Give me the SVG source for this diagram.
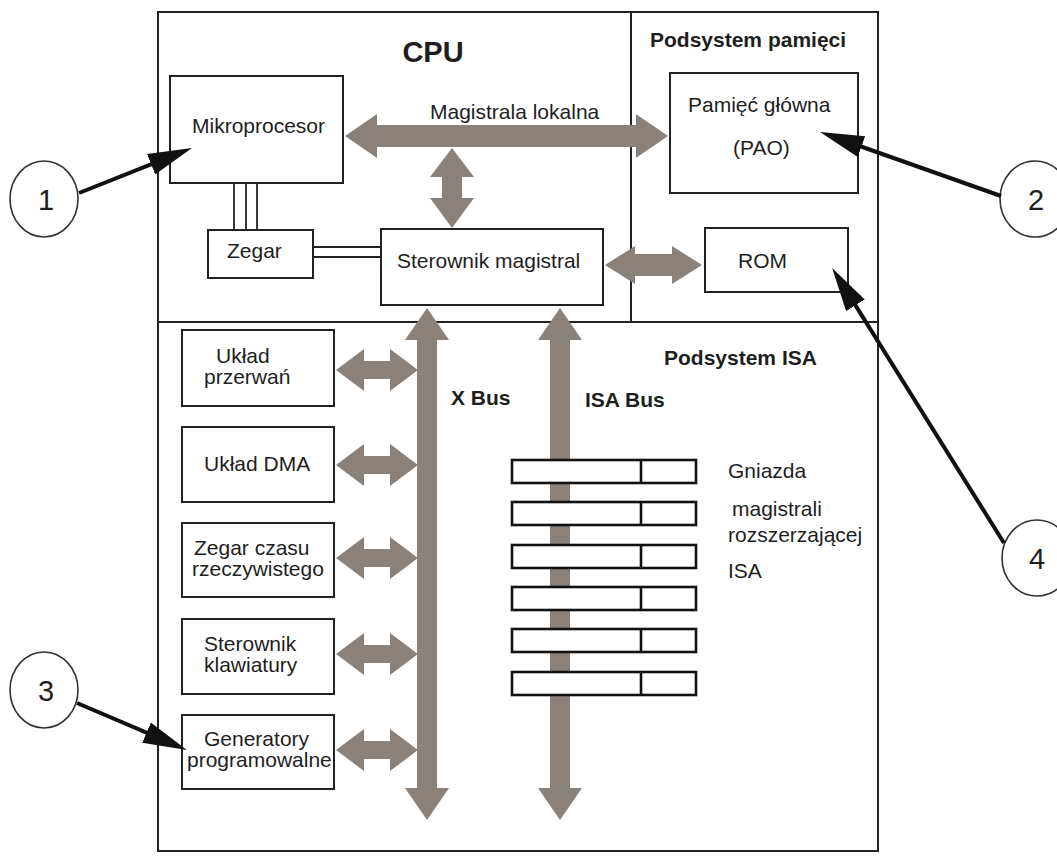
<svg xmlns="http://www.w3.org/2000/svg" width="1057" height="856" viewBox="0 0 1057 856">
<style>
.frame{fill:none;stroke:#222;stroke-width:2}
.box{fill:#fff;stroke:#222;stroke-width:2}
.slot{fill:#fff;stroke:#111;stroke-width:2.6}
.bus{fill:#8a817b}
.wire{stroke:#222;stroke-width:1.8;fill:none}
.ptr{stroke:#111;stroke-width:4;fill:none;marker-end:url(#ptr)}
.circ{fill:#fff;stroke:#333;stroke-width:1.6}
text{font-family:"Liberation Sans",Arial,sans-serif;font-size:21px;fill:#1e1e1e}
.b{font-weight:bold}
.num{font-size:29px;text-anchor:middle}
</style>
<defs>
<marker id="ptr" viewBox="0 -11 44 22" refX="14" refY="0" markerWidth="44" markerHeight="22" markerUnits="userSpaceOnUse" orient="auto">
<path d="M0,-11 L44,0 L0,11 z" fill="#111"/>
</marker>
</defs>
<rect width="1057" height="856" fill="#fff"/>
<g id="frame">
<rect class="frame" x="158" y="12" width="720" height="839"/>
<line class="frame" x1="631" y1="12" x2="631" y2="322"/>
<line class="frame" x1="158" y1="322" x2="878" y2="322"/>
<text class="b" x="433" y="62" text-anchor="middle" style="font-size:29px">CPU</text>
<text class="b" x="650" y="47">Podsystem pamięci</text>
<text class="b" x="664" y="365">Podsystem ISA</text>
</g>
<g id="mikroprocesor"><rect class="box" x="170" y="76" width="173" height="107"/><text x="192" y="133">Mikroprocesor</text></g>
<g id="zegar"><rect class="box" x="208" y="230" width="105" height="48"/><text x="227" y="258">Zegar</text></g>
<g id="sterownik-magistral"><rect class="box" x="381" y="229" width="222" height="76"/><text x="397" y="268">Sterownik magistral</text></g>
<g id="pamiec-glowna"><rect class="box" x="670" y="73" width="188" height="120"/><text x="688" y="112">Pamięć główna</text><text x="733" y="155">(PAO)</text></g>
<g id="rom"><rect class="box" x="705" y="228" width="143" height="64"/><text x="738" y="268">ROM</text></g>
<g id="uklad-przerwan"><rect class="box" x="182" y="330" width="152" height="76"/><text x="216" y="363">Układ</text><text x="204" y="384">przerwań</text></g>
<g id="uklad-dma"><rect class="box" x="182" y="427" width="152" height="75"/><text x="204" y="471">Układ DMA</text></g>
<g id="zegar-czasu"><rect class="box" x="182" y="523" width="152" height="74"/><text x="194" y="555">Zegar czasu</text><text x="192" y="576">rzeczywistego</text></g>
<g id="sterownik-klawiatury"><rect class="box" x="182" y="619" width="152" height="75"/><text x="204" y="651">Sterownik</text><text x="204" y="672">klawiatury</text></g>
<g id="generatory"><rect class="box" x="182" y="715" width="152" height="74"/><text x="204" y="746">Generatory</text><text x="187" y="767">programowalne</text></g>
<g id="gniazda-label">
<text x="728" y="478">Gniazda</text>
<text x="732" y="516">magistrali</text>
<text x="728" y="542">rozszerzającej</text>
<text x="728" y="578">ISA</text>
</g>
<g id="bus-labels">
<text class="b" x="451" y="405">X Bus</text>
<text class="b" x="585" y="407">ISA Bus</text>
<text x="430" y="119">Magistrala lokalna</text>
</g>
<g id="callouts">
<g id="c1"><ellipse class="circ" cx="44" cy="199" rx="34" ry="38"/><text class="num" x="46" y="210">1</text></g>
<g id="c2"><ellipse class="circ" cx="1035" cy="199" rx="35" ry="38"/><text class="num" x="1036" y="210">2</text></g>
<g id="c3"><ellipse class="circ" cx="44" cy="690" rx="34" ry="38"/><text class="num" x="46" y="701">3</text></g>
<g id="c4"><ellipse class="circ" cx="1037" cy="558" rx="35" ry="38"/><text class="num" x="1037" y="569">4</text></g>
</g>
<g id="connectors">
<polygon class="bus" points="345,136 377,114 377,125 636,125 636,114 668,136 636,158 636,147 377,147 377,158"/>
<polygon class="bus" points="452,148 474,177 462,177 462,198 474,198 452,228 430,198 442,198 442,177 430,177"/>
<polygon class="bus" points="605,265 635,246 635,254 672,254 672,246 702,265 672,284 672,276 635,276 635,284"/>
<polygon class="bus" points="427,308 449,340 437,340 437,788 449,788 427,820 405,788 417,788 417,340 405,340"/>
<polygon class="bus" points="560,308 582,340 570,340 570,788 582,788 560,820 538,788 550,788 550,340 538,340"/>
<polygon class="bus" points="336,370 364,349 364,361 390,361 390,349 418,370 390,391 390,379 364,379 364,391"/>
<polygon class="bus" points="336,465 364,444 364,456 390,456 390,444 418,465 390,486 390,474 364,474 364,486"/>
<polygon class="bus" points="336,558 364,537 364,549 390,549 390,537 418,558 390,579 390,567 364,567 364,579"/>
<polygon class="bus" points="336,654 364,633 364,645 390,645 390,633 418,654 390,675 390,663 364,663 364,675"/>
<polygon class="bus" points="336,750 364,729 364,741 390,741 390,729 418,750 390,771 390,759 364,759 364,771"/>
<line class="wire" x1="234" y1="183" x2="234" y2="230"/>
<line class="wire" x1="246" y1="183" x2="246" y2="230"/>
<line class="wire" x1="257" y1="183" x2="257" y2="230"/>
<line class="wire" x1="313" y1="247" x2="381" y2="247"/>
<line class="wire" x1="313" y1="257" x2="381" y2="257"/>
<line class="ptr" x1="79" y1="193" x2="164.1" y2="159.1"/>
<line class="ptr" x1="1001" y1="196" x2="848.3" y2="142"/>
<line class="ptr" x1="77" y1="703" x2="159.4" y2="738.2"/>
<line class="ptr" x1="1004" y1="543" x2="848" y2="293.4"/>
</g>
<g id="isa-slots">
<rect class="slot" x="512" y="460" width="184" height="23"/><line class="slot" x1="641" y1="460" x2="641" y2="483"/>
<rect class="slot" x="512" y="502" width="184" height="23"/><line class="slot" x1="641" y1="502" x2="641" y2="525"/>
<rect class="slot" x="512" y="545" width="184" height="23"/><line class="slot" x1="641" y1="545" x2="641" y2="568"/>
<rect class="slot" x="512" y="587" width="184" height="23"/><line class="slot" x1="641" y1="587" x2="641" y2="610"/>
<rect class="slot" x="512" y="629" width="184" height="23"/><line class="slot" x1="641" y1="629" x2="641" y2="652"/>
<rect class="slot" x="512" y="672" width="184" height="23"/><line class="slot" x1="641" y1="672" x2="641" y2="695"/>
</g>
</svg>
